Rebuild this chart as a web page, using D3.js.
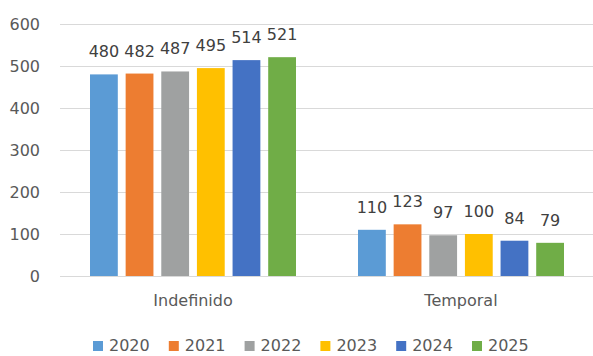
<!DOCTYPE html>
<html><head><meta charset="utf-8">
<script src="https://cdn.jsdelivr.net/npm/d3@7"></script>
<style>body{margin:0;background:#fff}svg{display:block}</style>
</head><body>
<script>
const categories = ["Indefinido", "Temporal"];
const years = ["2020", "2021", "2022", "2023", "2024", "2025"];
const values = {
  "2020": [480, 110],
  "2021": [482, 123],
  "2022": [487, 97],
  "2023": [495, 100],
  "2024": [514, 84],
  "2025": [521, 79]
};
const colors = ["#5B9BD5", "#ED7D31", "#9FA1A1", "#FFC000", "#4472C4", "#70AD47"];
const yTicks = [0, 100, 200, 300, 400, 500, 600];

const W = 593, H = 356;
const svg = d3.select("body").append("svg").attr("width", W).attr("height", H)
  .style("font-family", "DejaVu Sans");

const y = d3.scaleLinear().domain([0, 600]).range([276, 24]);
const x0 = d3.scaleBand().domain(categories).range([59, 595]).paddingInner(0).paddingOuter(0);
const groupW = 206;
const x1 = d3.scaleBand().domain(years).range([0, groupW]).paddingInner(0.22).paddingOuter(0);

// gridlines
svg.append("g").selectAll("line").data(yTicks).join("line")
  .attr("x1", 60).attr("x2", W).attr("y1", d => y(d) + 0.5).attr("y2", d => y(d) + 0.5)
  .attr("stroke", "#d9d9d9").attr("stroke-width", 1);

// y labels
svg.append("g").selectAll("text").data(yTicks).join("text")
  .attr("x", 40).attr("y", d => y(d) + 6).attr("text-anchor", "end")
  .attr("font-size", 16).attr("fill", "#595959").text(d => d);

// bars
categories.forEach((c, ci) => {
  const gx = x0(c) + (x0.bandwidth() - groupW) / 2;
  years.forEach((yr, yi) => {
    const v = values[yr][ci];
    svg.append("rect")
      .attr("x", gx + x1(yr)).attr("width", x1.bandwidth())
      .attr("y", y(v)).attr("height", y(0) - y(v))
      .attr("fill", colors[yi]);
    svg.append("text")
      .attr("x", gx + x1(yr) + x1.bandwidth() / 2).attr("y", y(v) - 17)
      .attr("text-anchor", "middle").attr("font-size", 16).attr("fill", "#404040")
      .text(v);
  });
  svg.append("text")
    .attr("x", x0(c) + x0.bandwidth() / 2).attr("y", 306)
    .attr("text-anchor", "middle").attr("font-size", 16).attr("fill", "#595959")
    .text(c);
});

// legend
const lg = svg.append("g");
years.forEach((yr, i) => {
  const lx = 93 + i * 75.8;
  lg.append("rect").attr("x", lx).attr("y", 341).attr("width", 10).attr("height", 10).attr("fill", colors[i]);
  lg.append("text").attr("x", lx + 16).attr("y", 351).attr("font-size", 16).attr("fill", "#595959").text(yr);
});
</script>
</body></html>
